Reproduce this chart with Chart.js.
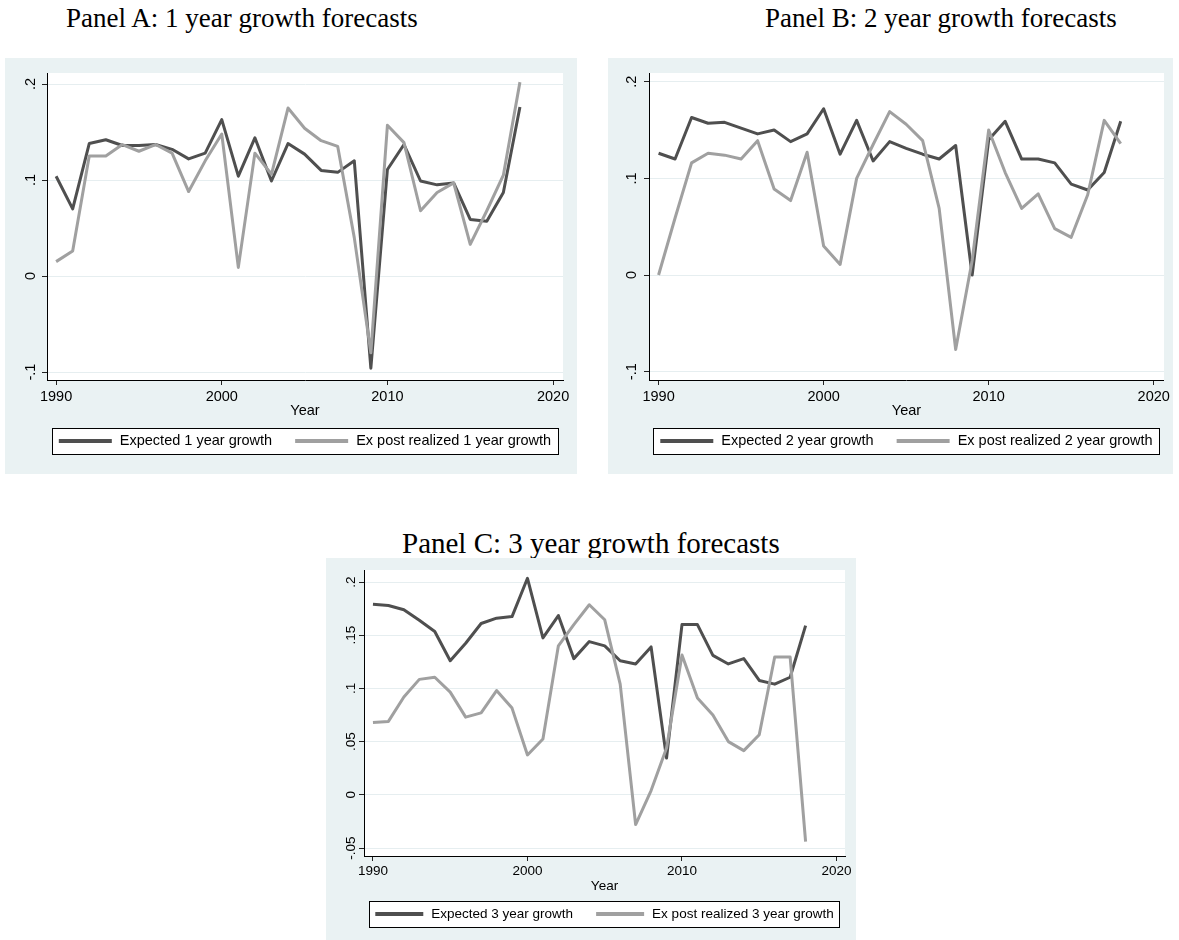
<!DOCTYPE html>
<html>
<head>
<meta charset="utf-8">
<script src="https://cdn.jsdelivr.net/npm/chart.js@4.4.1/dist/chart.umd.min.js"></script>
<style>
  body { margin: 0; background: #fff; width: 1179px; height: 940px; position: relative; overflow: hidden; }
  .title { position: absolute; font-family: "Liberation Serif", "Times New Roman", serif; font-size: 27px; line-height: 1; white-space: nowrap; color: #000; }
  .panel { position: absolute; background: #eaf2f3; }
  .panel canvas { display: block; }
</style>
</head>
<body>
<div class="title" style="left:66px; top:5px;">Panel A: 1 year growth forecasts</div>
<div class="title" style="left:765px; top:5px;">Panel B: 2 year growth forecasts</div>
<div class="title" style="left:402px; top:528.5px; font-size:29px;">Panel C: 3 year growth forecasts</div>

<div class="panel" style="left:5px; top:58px; width:572px; height:416px;"><canvas id="chartA" width="572" height="416"></canvas></div>
<div class="panel" style="left:608px; top:58px; width:565px; height:416px;"><canvas id="chartB" width="565" height="416"></canvas></div>
<div class="panel" style="left:326px; top:558px; width:530px; height:382px;"><canvas id="chartC" width="530" height="382"></canvas></div>

<script>
// Years on the x axis
const years = [1990, 1991, 1992, 1993, 1994, 1995, 1996, 1997, 1998, 1999,
  2000, 2001, 2002, 2003, 2004, 2005, 2006, 2007, 2008, 2009,
  2010, 2011, 2012, 2013, 2014, 2015, 2016, 2017, 2018];

const xTicks = [1990, 2000, 2010, 2020];
const yTicksAB = [-0.1, 0, 0.1, 0.2];
const yTickLabelsAB = ['-.1', '0', '.1', '.2'];
const yTicksC = [-0.05, 0, 0.05, 0.1, 0.15, 0.2];
const yTickLabelsC = ['-.05', '0', '.05', '.1', '.15', '.2'];

// Panel A: 1 year
const expected1 = [0.104, 0.070, 0.138, 0.142, 0.136, 0.136, 0.137, 0.132, 0.122, 0.128,
  0.163, 0.104, 0.144, 0.099, 0.138, 0.127, 0.110, 0.108, 0.120, -0.096,
  0.111, 0.137, 0.099, 0.095, 0.097, 0.059, 0.057, 0.087, 0.176];
const realized1 = [0.015, 0.026, 0.125, 0.125, 0.137, 0.130, 0.137, 0.128, 0.088, 0.120,
  0.148, 0.009, 0.128, 0.106, 0.175, 0.154, 0.141, 0.135, 0.040, -0.080,
  0.157, 0.139, 0.068, 0.087, 0.097, 0.033, 0.068, 0.105, 0.202];

// Panel B: 2 year
const expected2 = [0.126, 0.120, 0.163, 0.157, 0.158, 0.152, 0.146, 0.150, 0.138, 0.146,
  0.172, 0.125, 0.160, 0.118, 0.138, 0.131, 0.125, 0.120, 0.134, 0.000,
  0.140, 0.159, 0.120, 0.120, 0.116, 0.094, 0.088, 0.106, 0.159];
const realized2 = [0.000, 0.059, 0.116, 0.126, 0.124, 0.120, 0.139, 0.089, 0.077, 0.127,
  0.030, 0.011, 0.100, 0.135, 0.169, 0.156, 0.139, 0.069, -0.077, 0.015,
  0.150, 0.106, 0.069, 0.084, 0.048, 0.039, 0.083, 0.160, 0.136];

// Panel C: 3 year
const expected3 = [0.179, 0.178, 0.174, 0.164, 0.1535, 0.126, 0.1425, 0.161, 0.166, 0.1675,
  0.2035, 0.1475, 0.1685, 0.128, 0.144, 0.140, 0.126, 0.123, 0.139, 0.0345,
  0.160, 0.160, 0.131, 0.123, 0.128, 0.1075, 0.104, 0.1105, 0.159];
const realized3 = [0.068, 0.069, 0.092, 0.1085, 0.1105, 0.0965, 0.073, 0.077, 0.098, 0.0815,
  0.0375, 0.0525, 0.140, 0.160, 0.1786, 0.1645, 0.104, -0.028, 0.004, 0.044,
  0.1315, 0.091, 0.075, 0.050, 0.0415, 0.0565, 0.1295, 0.1295, -0.044];

const namesA = ['Expected 1 year growth', 'Ex post realized 1 year growth'];
const namesB = ['Expected 2 year growth', 'Ex post realized 2 year growth'];
const namesC = ['Expected 3 year growth', 'Ex post realized 3 year growth'];

const darkLine = '#4f4f4f';
const lightLine = '#a0a0a0';
const fontFamily = '"Liberation Sans", Arial, Helvetica, sans-serif';

Chart.defaults.font.family = fontFamily;
Chart.defaults.color = '#000';

function points(values) {
  return years.map((yr, i) => ({ x: yr, y: values[i] }));
}

// white plot region
const plotBackground = {
  id: 'plotBackground',
  beforeDraw(chart) {
    const { ctx, chartArea: a } = chart;
    ctx.save();
    ctx.fillStyle = '#ffffff';
    ctx.fillRect(a.left, a.top, a.right - a.left, a.bottom - a.top);
    ctx.restore();
  }
};

// Stata style legend: framed box, line samples, centred under the plot
const boxedLegend = {
  id: 'boxedLegend',
  afterDraw(chart, args, opts) {
    const { ctx, chartArea: a } = chart;
    const sets = chart.data.datasets;
    ctx.save();
    ctx.font = opts.fontSize + 'px ' + fontFamily;
    const textW = sets.map(d => ctx.measureText(d.label).width);
    let total = opts.itemGap * (sets.length - 1);
    textW.forEach(w => { total += opts.sample + opts.textGap + w; });
    const cy = a.bottom + opts.offset;
    let x = (a.left + a.right) / 2 - total / 2;

    const bx = Math.round(x - opts.boxPad) + 0.5;
    const bw = Math.round(total + 2 * opts.boxPad);
    const by = Math.round(cy - 13) + 0.5;
    ctx.fillStyle = '#ffffff';
    ctx.fillRect(bx, by, bw, 26);
    ctx.strokeStyle = '#000';
    ctx.lineWidth = 1;
    ctx.strokeRect(bx, by, bw, 26);

    ctx.textBaseline = 'middle';
    ctx.fillStyle = '#000';
    sets.forEach((d, i) => {
      ctx.strokeStyle = d.borderColor;
      ctx.lineWidth = 4;
      ctx.beginPath();
      ctx.moveTo(x, cy);
      ctx.lineTo(x + opts.sample, cy);
      ctx.stroke();
      x += opts.sample + opts.textGap;
      ctx.fillText(d.label, x, cy);
      x += textW[i] + opts.itemGap;
    });
    ctx.restore();
  }
};

function makeChart(id, g, expected, realized, names, yTicks, yLabels) {
  const ctx = document.getElementById(id).getContext('2d');
  return new Chart(ctx, {
    type: 'line',
    data: {
      datasets: [{
        label: names[0],
        data: points(expected),
        borderColor: darkLine,
        backgroundColor: darkLine,
        borderWidth: 3,
        borderJoinStyle: 'round',
        pointRadius: 0,
        order: 1
      }, {
        label: names[1],
        data: points(realized),
        borderColor: lightLine,
        backgroundColor: lightLine,
        borderWidth: 3,
        borderJoinStyle: 'round',
        pointRadius: 0,
        order: 0
      }]
    },
    options: {
      responsive: false,
      animation: false,
      layout: { padding: g.padding },
      plugins: {
        legend: { display: false },
        tooltip: { enabled: false },
        boxedLegend: g.legend
      },
      scales: {
        x: {
          type: 'linear',
          min: g.xMin,
          max: g.xMax,
          afterBuildTicks: s => { s.ticks = xTicks.map(v => ({ value: v })); },
          afterFit: s => { s.height = 40; },
          grid: { drawOnChartArea: false, tickLength: 5, tickColor: '#222' },
          border: { color: '#000', width: 1 },
          ticks: {
            autoSkip: false,
            maxRotation: 0,
            padding: g.xTickPad,
            font: { size: g.font },
            callback: v => String(v)
          },
          title: {
            display: true,
            text: 'Year',
            font: { size: g.font },
            padding: { top: 0, bottom: g.titlePad }
          }
        },
        y: {
          min: g.yMin,
          max: g.yMax,
          afterBuildTicks: s => { s.ticks = yTicks.map(v => ({ value: v })); },
          afterFit: s => { s.width = g.yWidth; },
          grid: { color: '#e6eef0', lineWidth: 1, tickLength: 5, tickColor: '#222' },
          border: { color: '#000', width: 1 },
          ticks: {
            autoSkip: false,
            minRotation: 90,
            maxRotation: 90,
            crossAlign: 'center',
            padding: g.yTickPad,
            font: { size: g.font },
            callback: (v, i) => yLabels[i]
          }
        }
      }
    },
    plugins: [plotBackground, boxedLegend]
  });
}

makeChart('chartA', {
  padding: { left: 0, top: 15, right: 14, bottom: 54 },
  yWidth: 42, xMin: 1989.45, xMax: 2020.6, yMin: -0.1083, yMax: 0.2115,
  font: 14.5, xTickPad: 3, yTickPad: 3, titlePad: 0,
  legend: { fontSize: 14.5, sample: 53, textGap: 8, itemGap: 23, boxPad: 7, offset: 61 }
}, expected1, realized1, namesA, yTicksAB, yTickLabelsAB);

makeChart('chartB', {
  padding: { left: 0, top: 15, right: 7, bottom: 54 },
  yWidth: 41, xMin: 1989.42, xMax: 2020.62, yMin: -0.1086, yMax: 0.209,
  font: 14.5, xTickPad: 3, yTickPad: 4, titlePad: 0,
  legend: { fontSize: 14.5, sample: 53, textGap: 8, itemGap: 23, boxPad: 7, offset: 61 }
}, expected2, realized2, namesB, yTicksAB, yTickLabelsAB);

makeChart('chartC', {
  padding: { left: 0, top: 12, right: 11, bottom: 44 },
  yWidth: 38, xMin: 1989.42, xMax: 2020.55, yMin: -0.0575, yMax: 0.2113,
  font: 13.5, xTickPad: 2, yTickPad: -4, titlePad: 2,
  legend: { fontSize: 13.5, sample: 48, textGap: 8, itemGap: 23, boxPad: 6, offset: 58 }
}, expected3, realized3, namesC, yTicksC, yTickLabelsC);
</script>
</body>
</html>
